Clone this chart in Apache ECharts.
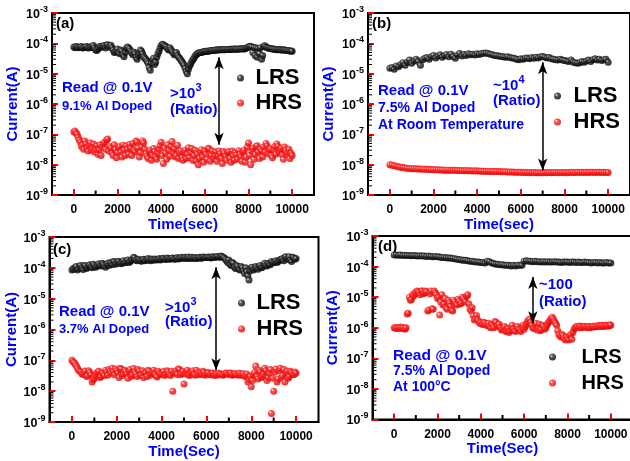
<!DOCTYPE html>
<html>
<head>
<meta charset="utf-8">
<script src="https://cdn.jsdelivr.net/npm/echarts@6/dist/echarts.min.js"></script>
<style>
html, body { margin: 0; padding: 0; background: #fff; }
#app { width: 630px; height: 461px; }
</style>
</head>
<body>
<div id="app"></div>
<script>
// sample times (sec)
const T = [
  0, 100, 200, 300, 400, 500, 600, 700, 800, 900,
  1000, 1100, 1200, 1300, 1400, 1500, 1600, 1700, 1800, 1900,
  2000, 2100, 2200, 2300, 2400, 2500, 2600, 2700, 2800, 2900,
  3000, 3100, 3200, 3300, 3400, 3500, 3600, 3700, 3800, 3900,
  4000, 4100, 4200, 4300, 4400, 4500, 4600, 4700, 4800, 4900,
  5000, 5100, 5200, 5300, 5400, 5500, 5600, 5700, 5800, 5900,
  6000, 6100, 6200, 6300, 6400, 6500, 6600, 6700, 6800, 6900,
  7000, 7100, 7200, 7300, 7400, 7500, 7600, 7700, 7800, 7900,
  8000, 8100, 8200, 8300, 8400, 8500, 8600, 8700, 8800, 8900,
  9000, 9100, 9200, 9300, 9400, 9500, 9600, 9700, 9800, 9900,
  10000
];
// in-between samples for the noisier runs
const T2 = [
  50, 150, 250, 350, 450, 550, 650, 750, 850, 950,
  1050, 1150, 1250, 1350, 1450, 1550, 1650, 1750, 1850, 1950,
  2050, 2150, 2250, 2350, 2450, 2550, 2650, 2750, 2850, 2950,
  3050, 3150, 3250, 3350, 3450, 3550, 3650, 3750, 3850, 3950,
  4050, 4150, 4250, 4350, 4450, 4550, 4650, 4750, 4850, 4950,
  5050, 5150, 5250, 5350, 5450, 5550, 5650, 5750, 5850, 5950,
  6050, 6150, 6250, 6350, 6450, 6550, 6650, 6750, 6850, 6950,
  7050, 7150, 7250, 7350, 7450, 7550, 7650, 7750, 7850, 7950,
  8050, 8150, 8250, 8350, 8450, 8550, 8650, 8750, 8850, 8950,
  9050, 9150, 9250, 9350, 9450, 9550, 9650, 9750, 9850, 9950
];

// (a) 9.1% Al doped
const lrsA = [
  7.5e-5, 7.8e-5, 7.2e-5, 7.6e-5, 7.0e-5, 7.4e-5, 7.8e-5, 7.1e-5, 7.3e-5, 8.5e-5,
  6.0e-5, 6.5e-5, 8.0e-5, 7.5e-5, 8.5e-5, 8.8e-5, 8.0e-5, 8.6e-5, 6.0e-5, 5.2e-5,
  6.5e-5, 4.5e-5, 5.5e-5, 3.6e-5, 6.8e-5, 7.2e-5, 5.5e-5, 4.2e-5, 4.5e-5, 3.0e-5,
  4.8e-5, 5.5e-5, 3.6e-5, 3.0e-5, 2.2e-5, 1.3e-5, 2.8e-5, 2.0e-5, 3.5e-5, 5.5e-5,
  8.5e-5, 9.0e-5, 8.0e-5, 6.5e-5, 7.2e-5, 5.5e-5, 4.2e-5, 5.0e-5, 3.5e-5, 2.8e-5,
  2.2e-5, 1.5e-5, 1.0e-5, 1.8e-5, 2.5e-5, 3.2e-5, 4.2e-5, 4.8e-5, 5.0e-5, 5.2e-5,
  5.4e-5, 5.5e-5, 5.6e-5, 5.8e-5, 5.8e-5, 6.0e-5, 6.0e-5, 6.1e-5, 6.2e-5, 6.2e-5,
  6.3e-5, 6.3e-5, 6.4e-5, 6.4e-5, 6.5e-5, 6.4e-5, 6.5e-5, 6.6e-5, 6.5e-5, 7.0e-5,
  7.5e-5, 7.8e-5, 5.0e-5, 4.0e-5, 3.5e-5, 4.5e-5, 3.0e-5, 8.0e-5, 7.5e-5, 7.0e-5,
  6.8e-5, 6.5e-5, 6.4e-5, 6.2e-5, 6.3e-5, 6.0e-5, 6.1e-5, 5.9e-5, 5.8e-5, 5.6e-5,
  5.5e-5
];
const lrsA2 = [
  7.2e-5, 7.6e-5, 7.4e-5, 7.8e-5, 7.2e-5, 7.6e-5, 7.0e-5, 7.5e-5, 8.0e-5, 7.0e-5,
  5.8e-5, 7.0e-5, 7.8e-5, 8.2e-5, 7.0e-5, 9.0e-5, 7.5e-5, 7.2e-5, 5.0e-5, 6.0e-5,
  5.0e-5, 6.0e-5, 4.2e-5, 5.0e-5, 7.5e-5, 6.5e-5, 4.8e-5, 5.2e-5, 3.5e-5, 4.0e-5,
  6.0e-5, 4.5e-5, 3.3e-5, 2.6e-5, 1.6e-5, 2.2e-5, 3.2e-5, 2.4e-5, 4.5e-5, 7.0e-5,
  9.3e-5, 8.5e-5, 7.5e-5, 6.0e-5, 6.2e-5, 4.8e-5, 4.5e-5, 4.0e-5, 3.2e-5, 2.5e-5,
  1.9e-5, 1.2e-5, 1.4e-5, 2.1e-5, 2.9e-5, 3.8e-5, 4.5e-5, 4.9e-5, 5.1e-5, 5.3e-5,
  5.5e-5, 5.5e-5, 5.7e-5, 5.8e-5, 5.9e-5, 6.0e-5, 6.1e-5, 6.1e-5, 6.2e-5, 6.3e-5,
  6.3e-5, 6.4e-5, 6.4e-5, 6.5e-5, 6.4e-5, 6.5e-5, 6.6e-5, 6.5e-5, 6.8e-5, 7.2e-5,
  8.0e-5, 7.6e-5, 7.4e-5, 7.0e-5, 6.8e-5, 7.2e-5, 4.0e-5, 8.3e-5, 7.2e-5, 6.9e-5,
  6.6e-5, 6.5e-5, 6.3e-5, 6.2e-5, 6.1e-5, 6.0e-5, 6.0e-5, 5.8e-5, 5.7e-5, 5.6e-5
];
const hrsA = [
  1.2e-7, 1.1e-7, 8.0e-8, 5.5e-8, 4.5e-8, 6.0e-8, 3.5e-8, 4.2e-8, 3.0e-8, 4.8e-8,
  3.2e-8, 2.2e-8, 4.5e-8, 3.8e-8, 5.5e-8, 6.5e-8, 2.8e-8, 3.5e-8, 2.0e-8, 3.2e-8,
  2.5e-8, 4.0e-8, 1.8e-8, 3.0e-8, 4.2e-8, 2.2e-8, 3.5e-8, 5.0e-8, 2.6e-8, 5.5e-8,
  1.8e-8, 3.8e-8, 5.2e-8, 2.3e-8, 1.6e-8, 3.0e-8, 2.1e-8, 2.7e-8, 1.5e-8, 3.2e-8,
  5.5e-8, 1.1e-8, 2.4e-8, 4.5e-8, 1.9e-8, 5.8e-8, 3.3e-8, 2.0e-8, 1.6e-8, 2.8e-8,
  1.4e-8, 3.0e-8, 2.2e-8, 1.7e-8, 3.4e-8, 2.0e-8, 1.3e-8, 1.0e-8, 2.5e-8, 1.8e-8,
  2.8e-8, 1.5e-8, 3.3e-8, 2.1e-8, 1.6e-8, 2.6e-8, 1.9e-8, 2.3e-8, 1.1e-8, 2.4e-8,
  1.4e-8, 2.7e-8, 1.2e-8, 2.0e-8, 2.5e-8, 1.5e-8, 2.2e-8, 1.3e-8, 3.0e-8, 1.8e-8,
  5.2e-8, 1.0e-8, 3.5e-8, 2.2e-8, 4.2e-8, 1.6e-8, 2.8e-8, 3.8e-8, 5.0e-8, 2.3e-8,
  3.3e-8, 1.7e-8, 4.0e-8, 4.8e-8, 2.5e-8, 3.5e-8, 1.5e-8, 3.0e-8, 2.6e-8, 1.6e-8,
  2.0e-8
];
const hrsA2 = [
  1.3e-7, 1.0e-7, 6.5e-8, 4.0e-8, 3.2e-8, 4.8e-8, 2.8e-8, 5.2e-8, 3.6e-8, 2.6e-8,
  4.2e-8, 3.0e-8, 2.0e-8, 4.8e-8, 3.2e-8, 7.0e-8, 4.0e-8, 2.4e-8, 4.5e-8, 1.7e-8,
  3.6e-8, 2.6e-8, 4.4e-8, 2.0e-8, 3.2e-8, 4.6e-8, 2.0e-8, 3.0e-8, 6.0e-8, 3.5e-8,
  2.5e-8, 6.0e-8, 3.2e-8, 1.9e-8, 2.6e-8, 1.4e-8, 3.4e-8, 1.8e-8, 2.4e-8, 4.2e-8,
  2.0e-8, 3.5e-8, 1.5e-8, 3.0e-8, 4.0e-8, 2.5e-8, 1.8e-8, 4.4e-8, 2.4e-8, 1.7e-8,
  2.5e-8, 1.6e-8, 3.6e-8, 2.5e-8, 1.4e-8, 3.0e-8, 2.2e-8, 1.6e-8, 3.1e-8, 1.2e-8,
  2.2e-8, 3.5e-8, 1.3e-8, 2.8e-8, 2.0e-8, 1.3e-8, 2.8e-8, 1.6e-8, 2.7e-8, 1.9e-8,
  2.5e-8, 1.6e-8, 2.8e-8, 1.4e-8, 2.1e-8, 2.9e-8, 1.8e-8, 2.6e-8, 1.2e-8, 3.8e-8,
  2.0e-8, 2.9e-8, 1.5e-8, 4.0e-8, 2.6e-8, 3.2e-8, 1.8e-8, 2.6e-8, 4.2e-8, 3.0e-8,
  2.0e-8, 3.0e-8, 2.2e-8, 4.0e-8, 3.0e-8, 2.1e-8, 3.8e-8, 2.2e-8, 3.2e-8, 2.4e-8
];

// (b) 7.5% Al doped, room temperature
const lrsB = [
  1.5e-5, 1.6e-5, 1.4e-5, 1.8e-5, 1.7e-5, 2.0e-5, 2.3e-5, 1.9e-5, 2.4e-5, 2.8e-5,
  2.2e-5, 2.6e-5, 3.0e-5, 2.5e-5, 1.9e-5, 2.9e-5, 3.2e-5, 3.4e-5, 3.0e-5, 3.6e-5,
  4.0e-5, 3.3e-5, 3.8e-5, 4.2e-5, 3.5e-5, 3.9e-5, 4.3e-5, 3.6e-5, 4.4e-5, 3.7e-5,
  3.2e-5, 4.1e-5, 4.6e-5, 3.8e-5, 4.3e-5, 4.0e-5, 4.5e-5, 4.2e-5, 4.4e-5, 4.1e-5,
  4.5e-5, 4.3e-5, 4.6e-5, 4.7e-5, 4.8e-5, 4.6e-5, 4.4e-5, 4.2e-5, 4.0e-5, 3.9e-5,
  3.8e-5, 3.7e-5, 3.6e-5, 3.5e-5, 3.6e-5, 3.4e-5, 3.3e-5, 3.2e-5, 3.0e-5, 2.9e-5,
  3.1e-5, 3.0e-5, 3.2e-5, 3.3e-5, 3.1e-5, 3.4e-5, 3.2e-5, 3.5e-5, 3.3e-5, 3.6e-5,
  3.7e-5, 3.5e-5, 3.3e-5, 3.4e-5, 3.1e-5, 3.0e-5, 2.9e-5, 2.8e-5, 3.0e-5, 2.8e-5,
  2.7e-5, 2.6e-5, 2.5e-5, 2.8e-5, 2.4e-5, 2.3e-5, 2.2e-5, 2.3e-5, 2.5e-5, 2.4e-5,
  2.6e-5, 2.8e-5, 2.5e-5, 2.9e-5, 3.1e-5, 2.8e-5, 3.0e-5, 2.7e-5, 2.9e-5, 3.0e-5,
  2.4e-5
];
const hrsB = [
  1.0e-8, 9.6e-9, 9.2e-9, 8.8e-9, 8.5e-9, 8.2e-9, 8.0e-9, 7.8e-9, 7.6e-9, 7.5e-9,
  7.4e-9, 7.4e-9, 7.3e-9, 7.2e-9, 7.2e-9, 7.1e-9, 7.0e-9, 7.0e-9, 6.9e-9, 6.9e-9,
  6.8e-9, 6.8e-9, 6.8e-9, 6.7e-9, 6.7e-9, 6.6e-9, 6.6e-9, 6.6e-9, 6.5e-9, 6.5e-9,
  6.5e-9, 6.4e-9, 6.4e-9, 6.4e-9, 6.3e-9, 6.4e-9, 6.3e-9, 6.3e-9, 6.2e-9, 6.3e-9,
  6.2e-9, 6.2e-9, 6.1e-9, 6.1e-9, 6.0e-9, 6.1e-9, 6.0e-9, 6.0e-9, 5.9e-9, 5.9e-9,
  5.9e-9, 5.8e-9, 5.8e-9, 5.8e-9, 5.7e-9, 5.7e-9, 5.7e-9, 5.6e-9, 5.6e-9, 5.6e-9,
  5.6e-9, 5.5e-9, 5.5e-9, 5.5e-9, 5.5e-9, 5.4e-9, 5.5e-9, 5.4e-9, 5.4e-9, 5.4e-9,
  5.4e-9, 5.5e-9, 5.4e-9, 5.5e-9, 5.4e-9, 5.5e-9, 5.5e-9, 5.4e-9, 5.5e-9, 5.5e-9,
  5.5e-9, 5.4e-9, 5.5e-9, 5.6e-9, 5.5e-9, 5.5e-9, 5.6e-9, 5.5e-9, 5.6e-9, 5.5e-9,
  5.6e-9, 5.5e-9, 5.6e-9, 5.6e-9, 5.5e-9, 5.6e-9, 5.6e-9, 5.5e-9, 5.6e-9, 5.5e-9,
  5.5e-9
];

// (c) 3.7% Al doped
const lrsC = [
  8.5e-5, 9.0e-5, 1.1e-4, 9.5e-5, 1.2e-4, 8.8e-5, 1.15e-4, 1.05e-4, 1.25e-4, 1.0e-4,
  1.2e-4, 1.1e-4, 1.35e-4, 1.15e-4, 1.3e-4, 1.05e-4, 1.4e-4, 1.5e-4, 1.25e-4, 1.55e-4,
  1.45e-4, 1.6e-4, 1.35e-4, 1.7e-4, 1.5e-4, 1.8e-4, 1.6e-4, 1.9e-4, 2.1e-4, 1.7e-4,
  1.8e-4, 1.65e-4, 1.9e-4, 1.75e-4, 2.0e-4, 1.7e-4, 1.85e-4, 1.95e-4, 1.8e-4, 2.0e-4,
  1.9e-4, 2.05e-4, 1.85e-4, 2.0e-4, 1.95e-4, 2.1e-4, 1.9e-4, 2.15e-4, 2.0e-4, 2.2e-4,
  2.1e-4, 2.0e-4, 2.25e-4, 2.1e-4, 2.0e-4, 2.15e-4, 2.05e-4, 2.2e-4, 2.1e-4, 2.2e-4,
  2.15e-4, 2.25e-4, 2.1e-4, 2.3e-4, 2.2e-4, 2.35e-4, 2.2e-4, 2.3e-4, 2.1e-4, 1.7e-4,
  1.8e-4, 1.2e-4, 1.4e-4, 9.5e-5, 1.1e-4, 8.5e-5, 1.0e-4, 6.5e-5, 7.5e-5, 4.0e-5,
  1.0e-4, 8.5e-5, 1.1e-4, 9.0e-5, 1.2e-4, 1.05e-4, 1.4e-4, 1.15e-4, 1.3e-4, 1.6e-4,
  1.45e-4, 1.7e-4, 1.6e-4, 1.85e-4, 2.0e-4, 2.2e-4, 1.9e-4, 2.3e-4, 1.6e-4, 2.1e-4,
  2.0e-4
];
const lrsC2 = [
  9.5e-5, 1.05e-4, 8.5e-5, 1.15e-4, 1.0e-4, 1.2e-4, 9.5e-5, 1.2e-4, 1.1e-4, 1.3e-4,
  1.05e-4, 1.25e-4, 1.2e-4, 1.4e-4, 1.2e-4, 1.3e-4, 1.2e-4, 1.4e-4, 1.6e-4, 1.3e-4,
  1.6e-4, 1.4e-4, 1.55e-4, 1.45e-4, 1.7e-4, 1.5e-4, 1.75e-4, 2.2e-4, 1.8e-4, 1.9e-4,
  1.7e-4, 1.85e-4, 1.7e-4, 1.9e-4, 1.8e-4, 1.95e-4, 1.75e-4, 1.85e-4, 1.9e-4, 1.8e-4,
  2.0e-4, 1.9e-4, 2.1e-4, 1.9e-4, 2.05e-4, 1.95e-4, 2.05e-4, 1.95e-4, 2.1e-4, 2.05e-4,
  2.2e-4, 2.1e-4, 2.0e-4, 2.2e-4, 2.1e-4, 2.0e-4, 2.15e-4, 2.05e-4, 2.25e-4, 2.15e-4,
  2.2e-4, 2.15e-4, 2.25e-4, 2.15e-4, 2.3e-4, 2.25e-4, 2.4e-4, 2.2e-4, 1.9e-4, 1.5e-4,
  1.3e-4, 1.5e-4, 1.05e-4, 1.2e-4, 9.0e-5, 1.1e-4, 8.0e-5, 1.0e-4, 5.5e-5, 8.0e-5,
  1.05e-4, 9.5e-5, 1.0e-4, 1.1e-4, 1.0e-4, 1.25e-4, 1.2e-4, 1.4e-4, 1.25e-4, 1.5e-4,
  1.6e-4, 1.5e-4, 1.75e-4, 1.9e-4, 1.7e-4, 2.3e-4, 2.1e-4, 1.8e-4, 2.2e-4, 1.9e-4
];
const hrsC = [
  1.0e-7, 8.5e-8, 6.5e-8, 4.8e-8, 4.2e-8, 3.5e-8, 4.5e-8, 3.2e-8, 4.0e-8, 2.0e-8,
  2.6e-8, 3.8e-8, 4.4e-8, 3.0e-8, 3.6e-8, 4.8e-8, 3.3e-8, 4.5e-8, 5.5e-8, 3.4e-8,
  4.6e-8, 2.8e-8, 5.2e-8, 3.7e-8, 4.3e-8, 2.6e-8, 5.0e-8, 3.4e-8, 4.1e-8, 3.0e-8,
  4.5e-8, 3.5e-8, 2.8e-8, 4.0e-8, 4.8e-8, 3.3e-8, 4.2e-8, 3.6e-8, 2.9e-8, 3.9e-8,
  3.4e-8, 4.4e-8, 3.7e-8, 4.2e-8, 3.2e-8, 1.0e-8, 4.1e-8, 3.5e-8, 5.0e-8, 3.8e-8,
  1.7e-8, 4.3e-8, 3.4e-8, 3.9e-8, 4.6e-8, 3.3e-8, 3.8e-8, 4.2e-8, 3.5e-8, 4.0e-8,
  3.6e-8, 3.9e-8, 3.4e-8, 3.8e-8, 3.5e-8, 3.3e-8, 3.7e-8, 3.4e-8, 3.6e-8, 3.9e-8,
  3.5e-8, 3.8e-8, 3.4e-8, 3.6e-8, 3.3e-8, 3.7e-8, 3.5e-8, 3.1e-8, 3.6e-8, 2.4e-8,
  1.4e-8, 3.5e-8, 6.5e-8, 2.5e-8, 4.2e-8, 3.0e-8, 5.5e-8, 2.2e-8, 3.8e-8, 1.9e-9,
  1.0e-8, 5.2e-8, 2.5e-8, 5.5e-8, 3.2e-8, 2.0e-8, 4.5e-8, 3.0e-8, 4.0e-8, 3.4e-8,
  3.8e-8
];
const hrsC2 = [
  9.0e-8, 7.5e-8, 5.5e-8, 4.4e-8, 3.6e-8, 4.0e-8, 3.0e-8, 4.6e-8, 3.4e-8, 2.4e-8,
  3.2e-8, 4.2e-8, 2.8e-8, 4.0e-8, 3.2e-8, 4.2e-8, 5.0e-8, 3.8e-8, 4.4e-8, 5.2e-8,
  3.8e-8, 5.5e-8, 3.2e-8, 4.8e-8, 3.6e-8, 4.4e-8, 3.0e-8, 5.4e-8, 3.6e-8, 5.0e-8,
  3.2e-8, 4.6e-8, 3.8e-8, 3.0e-8, 4.4e-8, 3.8e-8, 4.8e-8, 3.2e-8, 4.4e-8, 3.6e-8,
  4.0e-8, 3.2e-8, 4.6e-8, 3.6e-8, 4.4e-8, 3.8e-8, 4.6e-8, 5.2e-8, 3.4e-8, 4.4e-8,
  3.6e-8, 4.8e-8, 3.2e-8, 4.2e-8, 3.6e-8, 4.8e-8, 3.4e-8, 3.9e-8, 4.4e-8, 3.3e-8,
  4.0e-8, 3.5e-8, 3.9e-8, 3.2e-8, 3.6e-8, 3.8e-8, 3.5e-8, 3.3e-8, 3.8e-8, 3.6e-8,
  3.9e-8, 3.3e-8, 3.7e-8, 3.5e-8, 3.8e-8, 3.3e-8, 3.7e-8, 3.0e-8, 2.0e-8, 3.0e-8,
  2.2e-8, 4.0e-8, 3.0e-8, 4.8e-8, 2.8e-8, 3.6e-8, 4.6e-8, 2.8e-8, 5.0e-8, 2.6e-8,
  4.2e-8, 2.0e-8, 4.6e-8, 2.8e-8, 5.0e-8, 3.8e-8, 2.6e-8, 4.4e-8, 3.6e-8, 4.2e-8
];

// (d) 7.5% Al doped, 100 C
const lrsD = [
  2.4e-4, 2.4e-4, 2.35e-4, 2.4e-4, 2.3e-4, 2.35e-4, 2.3e-4, 2.3e-4, 2.25e-4, 2.3e-4,
  2.25e-4, 2.2e-4, 2.25e-4, 2.2e-4, 2.2e-4, 2.15e-4, 2.2e-4, 2.15e-4, 2.1e-4, 2.15e-4,
  2.1e-4, 2.05e-4, 2.0e-4, 2.0e-4, 1.95e-4, 1.9e-4, 1.9e-4, 1.85e-4, 1.8e-4, 1.75e-4,
  1.7e-4, 1.65e-4, 1.6e-4, 1.6e-4, 1.55e-4, 1.5e-4, 1.5e-4, 1.45e-4, 1.4e-4, 1.4e-4,
  1.35e-4, 1.35e-4, 1.3e-4, 1.5e-4, 1.45e-4, 1.3e-4, 1.25e-4, 1.2e-4, 1.2e-4, 1.15e-4,
  1.15e-4, 1.1e-4, 1.1e-4, 1.1e-4, 1.05e-4, 1.1e-4, 1.05e-4, 1.1e-4, 1.1e-4, 1.1e-4,
  1.5e-4, 1.55e-4, 1.5e-4, 1.5e-4, 1.45e-4, 1.5e-4, 1.45e-4, 1.45e-4, 1.4e-4, 1.45e-4,
  1.4e-4, 1.45e-4, 1.4e-4, 1.4e-4, 1.45e-4, 1.4e-4, 1.4e-4, 1.35e-4, 1.4e-4, 1.4e-4,
  1.4e-4, 1.35e-4, 1.4e-4, 1.4e-4, 1.35e-4, 1.4e-4, 1.35e-4, 1.35e-4, 1.4e-4, 1.35e-4,
  1.35e-4, 1.3e-4, 1.35e-4, 1.35e-4, 1.3e-4, 1.35e-4, 1.3e-4, 1.3e-4, 1.35e-4, 1.3e-4,
  1.3e-4
];
const hrsD = [
  1.0e-6, 9.5e-7, 1.0e-6, 1.05e-6, 9.5e-7, 9.0e-7, 2.8e-6, 1.0e-5, 8.5e-6, 1.1e-5,
  1.3e-5, 1.5e-5, 1.2e-5, 1.6e-5, 1.4e-5, 1.5e-5, 3.8e-6, 1.6e-5, 4.0e-6, 1.4e-5,
  9.0e-6, 2.6e-6, 1.2e-5, 6.0e-6, 4.5e-6, 8.0e-6, 5.0e-6, 3.5e-6, 7.0e-6, 5.5e-6,
  7.5e-6, 6.5e-6, 9.0e-6, 7.0e-6, 1.2e-5, 4.0e-6, 4.5e-6, 1.8e-6, 2.5e-6, 1.6e-6,
  1.5e-6, 1.3e-6, 1.4e-6, 1.2e-6, 1.1e-6, 1.3e-6, 1.0e-6, 1.5e-6, 1.2e-6, 1.0e-6,
  9.0e-7, 1.1e-6, 8.0e-7, 7.0e-7, 1.0e-6, 9.0e-7, 7.5e-7, 1.1e-6, 8.5e-7, 1.0e-6,
  9.0e-7, 1.3e-6, 1.8e-6, 1.5e-6, 1.0e-6, 1.2e-6, 8.5e-7, 1.3e-6, 9.0e-7, 1.1e-6,
  1.0e-6, 1.4e-6, 1.8e-6, 2.2e-6, 1.6e-6, 1.2e-6, 6.0e-7, 5.0e-7, 5.5e-7, 4.0e-7,
  4.5e-7, 5.5e-7, 4.2e-7, 9.0e-7, 1.1e-6, 1.0e-6, 1.1e-6, 1.05e-6, 1.1e-6, 1.0e-6,
  1.1e-6, 1.05e-6, 1.15e-6, 1.1e-6, 1.1e-6, 1.15e-6, 1.2e-6, 1.1e-6, 1.2e-6, 1.15e-6,
  1.2e-6
];
const hrsD2 = [
  1.0e-6, 1.0e-6, 9.5e-7, 1.0e-6, 1.0e-6, 1.0e-6, 3.0e-6, 8.0e-6, 1.2e-5, 1.4e-5,
  1.6e-5, 1.4e-5, 1.6e-5, 1.3e-5, 1.6e-5, 3.5e-6, 1.3e-5, 4.2e-6, 1.6e-5, 1.2e-5,
  1.0e-5, 7.0e-6, 5.5e-6, 9.0e-6, 4.0e-6, 6.5e-6, 3.8e-6, 8.0e-6, 6.0e-6, 8.5e-6,
  6.0e-6, 1.0e-5, 8.0e-6, 1.1e-5, 6.0e-6, 3.5e-6, 2.5e-6, 2.0e-6, 1.8e-6, 1.4e-6,
  1.3e-6, 1.5e-6, 1.2e-6, 1.4e-6, 1.0e-6, 1.2e-6, 1.6e-6, 1.1e-6, 1.3e-6, 8.5e-7,
  1.0e-6, 7.5e-7, 9.5e-7, 8.0e-7, 1.2e-6, 8.0e-7, 1.0e-6, 9.0e-7, 7.5e-7, 1.2e-6,
  1.1e-6, 1.6e-6, 1.9e-6, 1.2e-6, 9.5e-7, 1.4e-6, 1.0e-6, 8.0e-7, 1.2e-6, 9.0e-7,
  1.2e-6, 1.6e-6, 2.0e-6, 1.9e-6, 1.4e-6, 8.0e-7, 5.5e-7, 6.0e-7, 4.5e-7, 5.0e-7,
  4.0e-7, 6.0e-7, 7.0e-7, 1.0e-6, 1.1e-6, 1.15e-6, 1.0e-6, 1.1e-6, 1.05e-6, 1.1e-6,
  1.0e-6, 1.1e-6, 1.05e-6, 1.15e-6, 1.2e-6, 1.1e-6, 1.15e-6, 1.2e-6, 1.15e-6, 1.25e-6
];

const lrsAll = [lrsA, lrsB, lrsC, lrsD];
const hrsAll = [hrsA, hrsB, hrsC, hrsD];
const lrsHalf = [lrsA2, [], lrsC2, []];
const hrsHalf = [hrsA2, [], hrsC2, hrsD2];

// double arrow between LRS and HRS (time, top current, bottom current)
const arrowX = [6650, 7000, 6430, 6400];
const arrowTop = [3.5e-5, 2.4e-5, 1.04e-4, 4.6e-5];
const arrowBottom = [4.5e-8, 6.4e-9, 4.8e-8, 1.4e-6];

const xTicks = [0, 2000, 4000, 6000, 8000, 10000];
const xMinorTicks = [1000, 3000, 5000, 7000, 9000];
const tags = ['(a)', '(b)', '(c)', '(d)'];
const xNames = ['Time(sec)', 'Time(sec)', 'Time(Sec)', 'Time(Sec)'];
const yName = 'Current(A)';
const notes = [
  ['Read @ 0.1V', '9.1% Al Doped'],
  ['Read @ 0.1V', '7.5% Al Doped', 'At Room Temperature'],
  ['Read @ 0.1V', '3.7% Al Doped'],
  ['Read @ 0.1V', '7.5% Al Doped', 'At 100\u00B0C']
];
const ratioMain = ['>10', '~10', '>10', '~100'];
const ratioSup = ['3', '4', '3', ''];

// minor log ticks: 2..9 in every decade
const yMinorTicks = [];
for (let e = -9; e < -3; e++) {
  for (let m = 2; m <= 9; m++) yMinorTicks.push(m * Math.pow(10, e));
}

const FONT = "'Liberation Sans', Arial, sans-serif";
const BLUE = '#0000ff';

// layout per panel
const panels = [
  { grid: { left: 52, top: 13, width: 262, height: 182 }, gapY: 32,
    legend: { left: 237, top: 67, itemWidth: 20, fontSize: 22, gap: 3 }, tag: [56, 24],
    note: [62, 88], noteDy: 18, noteSize: [15, 13], ratio: [170, 92], ratioDy: 18 },
  { grid: { left: 368, top: 13, width: 262, height: 182 }, gapY: 32,
    legend: { left: 554, top: 85, itemWidth: 22, fontSize: 22, gap: 4 }, tag: [372, 24],
    note: [378, 90.5], noteDy: 17.3, noteSize: [15, 14], ratio: [493, 84], ratioDy: 17 },
  { grid: { left: 49.5, top: 237, width: 269, height: 185 }, gapY: 26,
    legend: { left: 238, top: 292, itemWidth: 20, fontSize: 22, gap: 4 }, tag: [53, 250],
    note: [59, 311.5], noteDy: 17.5, noteSize: [15, 13], ratio: [165, 306], ratioDy: 16 },
  { grid: { left: 372.5, top: 236, width: 260, height: 183.5 }, gapY: 32,
    legend: { left: 549, top: 347, itemWidth: 48, fontSize: 20, gap: 6 }, tag: [378, 247],
    note: [393, 356], noteDy: 15.5, noteSize: [15.5, 14], ratio: [539, 283], ratioDy: 19 }
];

const blackBall = {
  type: 'radial', x: 0.35, y: 0.35, r: 0.7,
  colorStops: [{ offset: 0, color: '#d8d8d8' }, { offset: 0.35, color: '#2a2a2a' }, { offset: 1, color: '#000' }]
};
const redBall = {
  type: 'radial', x: 0.35, y: 0.35, r: 0.7,
  colorStops: [{ offset: 0, color: '#ffffff' }, { offset: 0.3, color: '#ff2a2a' }, { offset: 1, color: '#d80000' }]
};

const merge = (main, half) => T.map((t, k) => [t, main[k]])
  .concat(T2.slice(0, half.length).map((t, k) => [t, half[k]]))
  .sort((a, b) => a[0] - b[0]);

// small black minor ticks, drawn inward from the axes
const yMinorRender = (params, api) => {
  const p = api.coord([api.value(0), api.value(1)]);
  return { type: 'line', shape: { x1: p[0], y1: p[1], x2: p[0] + 4, y2: p[1] },
    style: { stroke: '#000', lineWidth: 1 } };
};
const xMinorRender = (params, api) => {
  const p = api.coord([api.value(0), api.value(1)]);
  return { type: 'line', shape: { x1: p[0], y1: p[1], x2: p[0], y2: p[1] - 4.5 },
    style: { stroke: '#000', lineWidth: 2 } };
};

const grids = [], xAxes = [], yAxes = [], series = [], legends = [], graphics = [];

panels.forEach((p, i) => {
  grids.push(Object.assign({ show: true, borderColor: '#000', borderWidth: 2,
    backgroundColor: 'transparent', outerBoundsMode: 'none' }, p.grid));

  xAxes.push({
    type: 'value', gridIndex: i, min: -1000, max: 11000, position: 'bottom',
    name: xNames[i], nameLocation: 'middle', nameGap: 20,
    nameTextStyle: { color: BLUE, fontSize: 15, fontWeight: 'bold', fontFamily: FONT },
    axisLine: { show: true, onZero: false, lineStyle: { color: '#000', width: 2 } },
    axisTick: { show: true, inside: true, length: 6, customValues: xTicks, lineStyle: { color: '#ff0000', width: 2 } },
    axisLabel: { customValues: xTicks, formatter: v => String(v), margin: 9,
      color: '#000', fontSize: 12, fontWeight: 'bold', fontFamily: FONT },
    splitLine: { show: false }
  });

  yAxes.push({
    type: 'log', gridIndex: i, logBase: 10, min: 1e-9, max: 1e-3, splitNumber: 6, position: 'left',
    name: yName, nameLocation: 'middle', nameGap: p.gapY, nameRotate: 90,
    nameTextStyle: { color: BLUE, fontSize: 15, fontWeight: 'bold', fontFamily: FONT },
    axisLine: { show: true, onZero: false, lineStyle: { color: '#000', width: 2 } },
    axisTick: { show: true, inside: true, length: 6, lineStyle: { color: '#ff0000', width: 2 } },
    axisLabel: {
      margin: 4,
      formatter: v => '{b|10}{s|' + Math.round(Math.log10(v)) + '}',
      rich: {
        b: { color: '#000', fontSize: 12.5, fontWeight: 'bold', fontFamily: FONT, lineHeight: 16, verticalAlign: 'bottom' },
        s: { color: '#000', fontSize: 9, fontWeight: 'bold', fontFamily: FONT, lineHeight: 10, verticalAlign: 'top' }
      }
    },
    splitLine: { show: false }
  });

  series.push({
    type: 'custom', xAxisIndex: i, yAxisIndex: i, silent: true, z: 1,
    data: yMinorTicks.map(v => [-1000, v]), renderItem: yMinorRender
  });
  series.push({
    type: 'custom', xAxisIndex: i, yAxisIndex: i, silent: true, z: 1,
    data: xMinorTicks.map(t => [t, 1e-9]), renderItem: xMinorRender
  });
  series.push({
    type: 'scatter', name: 'LRS', xAxisIndex: i, yAxisIndex: i,
    data: merge(lrsAll[i], lrsHalf[i]),
    symbol: 'circle', symbolSize: 7, itemStyle: { color: blackBall }, silent: true, z: 3
  });
  series.push({
    type: 'scatter', name: 'HRS', xAxisIndex: i, yAxisIndex: i,
    data: merge(hrsAll[i], hrsHalf[i]),
    symbol: 'circle', symbolSize: 7, itemStyle: { color: redBall }, silent: true, z: 3,
    markLine: {
      silent: true, symbol: ['arrow', 'arrow'], symbolSize: [7, 12],
      lineStyle: { color: '#000', width: 1.5, type: 'solid' }, label: { show: false },
      emphasis: { disabled: true },
      data: [[{ coord: [arrowX[i], arrowTop[i]] }, { coord: [arrowX[i], arrowBottom[i]] }]]
    }
  });

  legends.push({
    orient: 'vertical', left: p.legend.left, top: p.legend.top, padding: 0,
    itemWidth: p.legend.itemWidth, itemHeight: 7, itemGap: p.legend.gap, selectedMode: false,
    data: ['LRS', 'HRS'],
    textStyle: { color: '#000', fontSize: p.legend.fontSize, fontWeight: 'bold', fontFamily: FONT }
  });

  // panel tag
  graphics.push({ type: 'text', x: p.tag[0], y: p.tag[1], silent: true,
    style: { text: tags[i], fill: '#000', font: 'bold 15px ' + FONT, verticalAlign: 'middle' } });
  // read conditions
  notes[i].forEach((line, j) => {
    graphics.push({ type: 'text', x: p.note[0], y: p.note[1] + j * p.noteDy, silent: true,
      style: { text: line, fill: BLUE, font: 'bold ' + (j === 0 ? p.noteSize[0] : p.noteSize[1]) + 'px ' + FONT,
        verticalAlign: 'middle' } });
  });
  // on/off ratio
  graphics.push({ type: 'text', x: p.ratio[0], y: p.ratio[1], silent: true,
    style: {
      text: '{m|' + ratioMain[i] + '}' + (ratioSup[i] ? '{s|' + ratioSup[i] + '}' : ''),
      fill: BLUE, verticalAlign: 'middle',
      rich: {
        m: { fill: BLUE, fontSize: 15, fontWeight: 'bold', fontFamily: FONT, lineHeight: 19, verticalAlign: 'bottom' },
        s: { fill: BLUE, fontSize: 11, fontWeight: 'bold', fontFamily: FONT, lineHeight: 11, verticalAlign: 'top' }
      }
    } });
  graphics.push({ type: 'text', x: p.ratio[0], y: p.ratio[1] + p.ratioDy, silent: true,
    style: { text: '(Ratio)', fill: BLUE, font: 'bold 15px ' + FONT, verticalAlign: 'middle' } });
});

const myChart = echarts.init(document.getElementById('app'), null, { renderer: 'canvas' });
myChart.setOption({
  animation: false,
  backgroundColor: '#fff',
  grid: grids,
  xAxis: xAxes,
  yAxis: yAxes,
  legend: legends,
  series: series,
  graphic: graphics
});
</script>
</body>
</html>
